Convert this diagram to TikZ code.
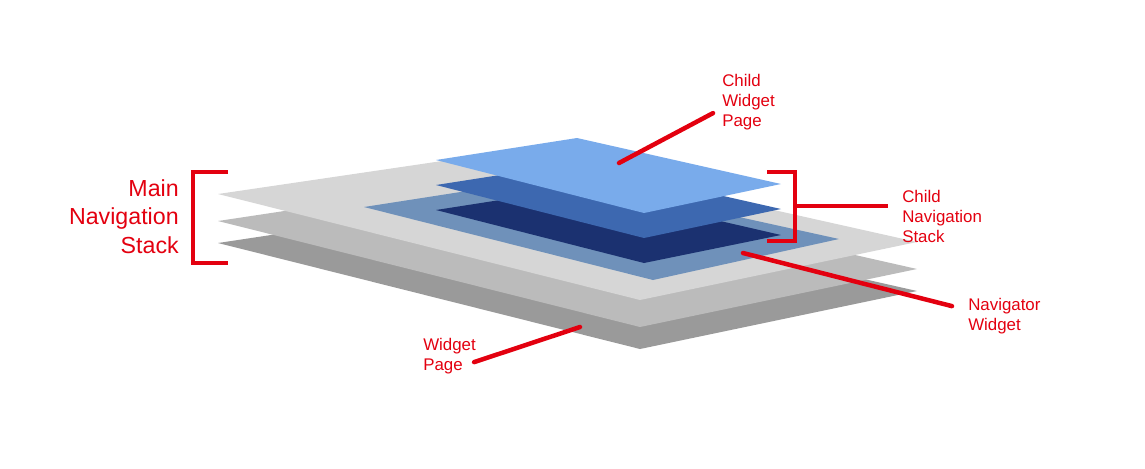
\documentclass[tikz,border=0pt]{standalone}
\usepackage{fontspec}
\setmainfont{Liberation Sans}
\usetikzlibrary{calc}

\definecolor{labelred}{HTML}{E3000F}
\definecolor{pagegray}{HTML}{D6D6D6}
\definecolor{midgray}{HTML}{BBBBBB}
\definecolor{basegray}{HTML}{9A9A9A}
\definecolor{navblue}{HTML}{6F91BA}
\definecolor{deepblue}{HTML}{1B3170}
\definecolor{midblue}{HTML}{3D68B0}
\definecolor{childblue}{HTML}{79ABEB}

\begin{document}
\begin{tikzpicture}[
  x=0.025cm, y=-0.025cm,
  note/.style={text=labelred, align=left, inner sep=0pt, font=\fontsize{12}{14.2}\selectfont},
  bignote/.style={text=labelred, align=right, inner sep=0pt, font=\fontsize{16.5}{20.3}\selectfont},
  lead/.style={draw=labelred, line width=3.2pt, line cap=round},
  bracket/.style={draw=labelred, line width=3pt}
]
\useasboundingbox (0,0) rectangle (1145,468);

% main stack: three gray layers
\fill[basegray] (218,243) -- (640,349) -- (917,291) -- (510,199) -- cycle;
\fill[midgray]  (218,221) -- (640,327) -- (917,269) -- (510,177) -- cycle;
\fill[pagegray] (218,194) -- (640,300) -- (917,242) -- (510,151) -- cycle;

% navigator and its child stack
\fill[navblue]   (364,207) -- (653,280) -- (839,239) -- (557,177) -- cycle;
\fill[deepblue]  (436,210) -- (644,263) -- (781,235) -- (577,188) -- cycle;
\fill[midblue]   (436,185) -- (644,238) -- (781,209) -- (577,163) -- cycle;
\fill[childblue] (436,160) -- (644,213) -- (781,184) -- (577,138) -- cycle;

\coordinate (childtip) at (619,163);
\coordinate (navtip) at (743,253);
\coordinate (pagetip) at (580,327);
\coordinate (stackmid) at (795,206);

\node[bignote, anchor=north east] (mainstack) at (179,179) {Main\\Navigation\\Stack};
\node[note, anchor=north west] (childpage) at (722,74) {Child\\Widget\\Page};
\node[note, anchor=north west] (childstack) at (902,190) {Child\\Navigation\\Stack};
\node[note, anchor=north west] (navigator) at (968,298) {Navigator\\Widget};
\node[note, anchor=north west] (widgetpage) at (423,338) {Widget\\Page};

\draw[bracket] (228,172) -| (193,263) -- (228,263);
\draw[bracket] (767,172) -| (795,241) -- (767,241);
\draw[bracket] (stackmid) -- ($(stackmid -| childstack.west)+(-14,0)$);

\draw[lead] (childtip) -- ([shift={(-9,11)}]childpage.west);
\draw[lead] (navtip) -- ([shift={(-16,-10)}]navigator.west);
\draw[lead] (pagetip) -- ([shift={(-2,6)}]widgetpage.east);

\end{tikzpicture}
\end{document}
